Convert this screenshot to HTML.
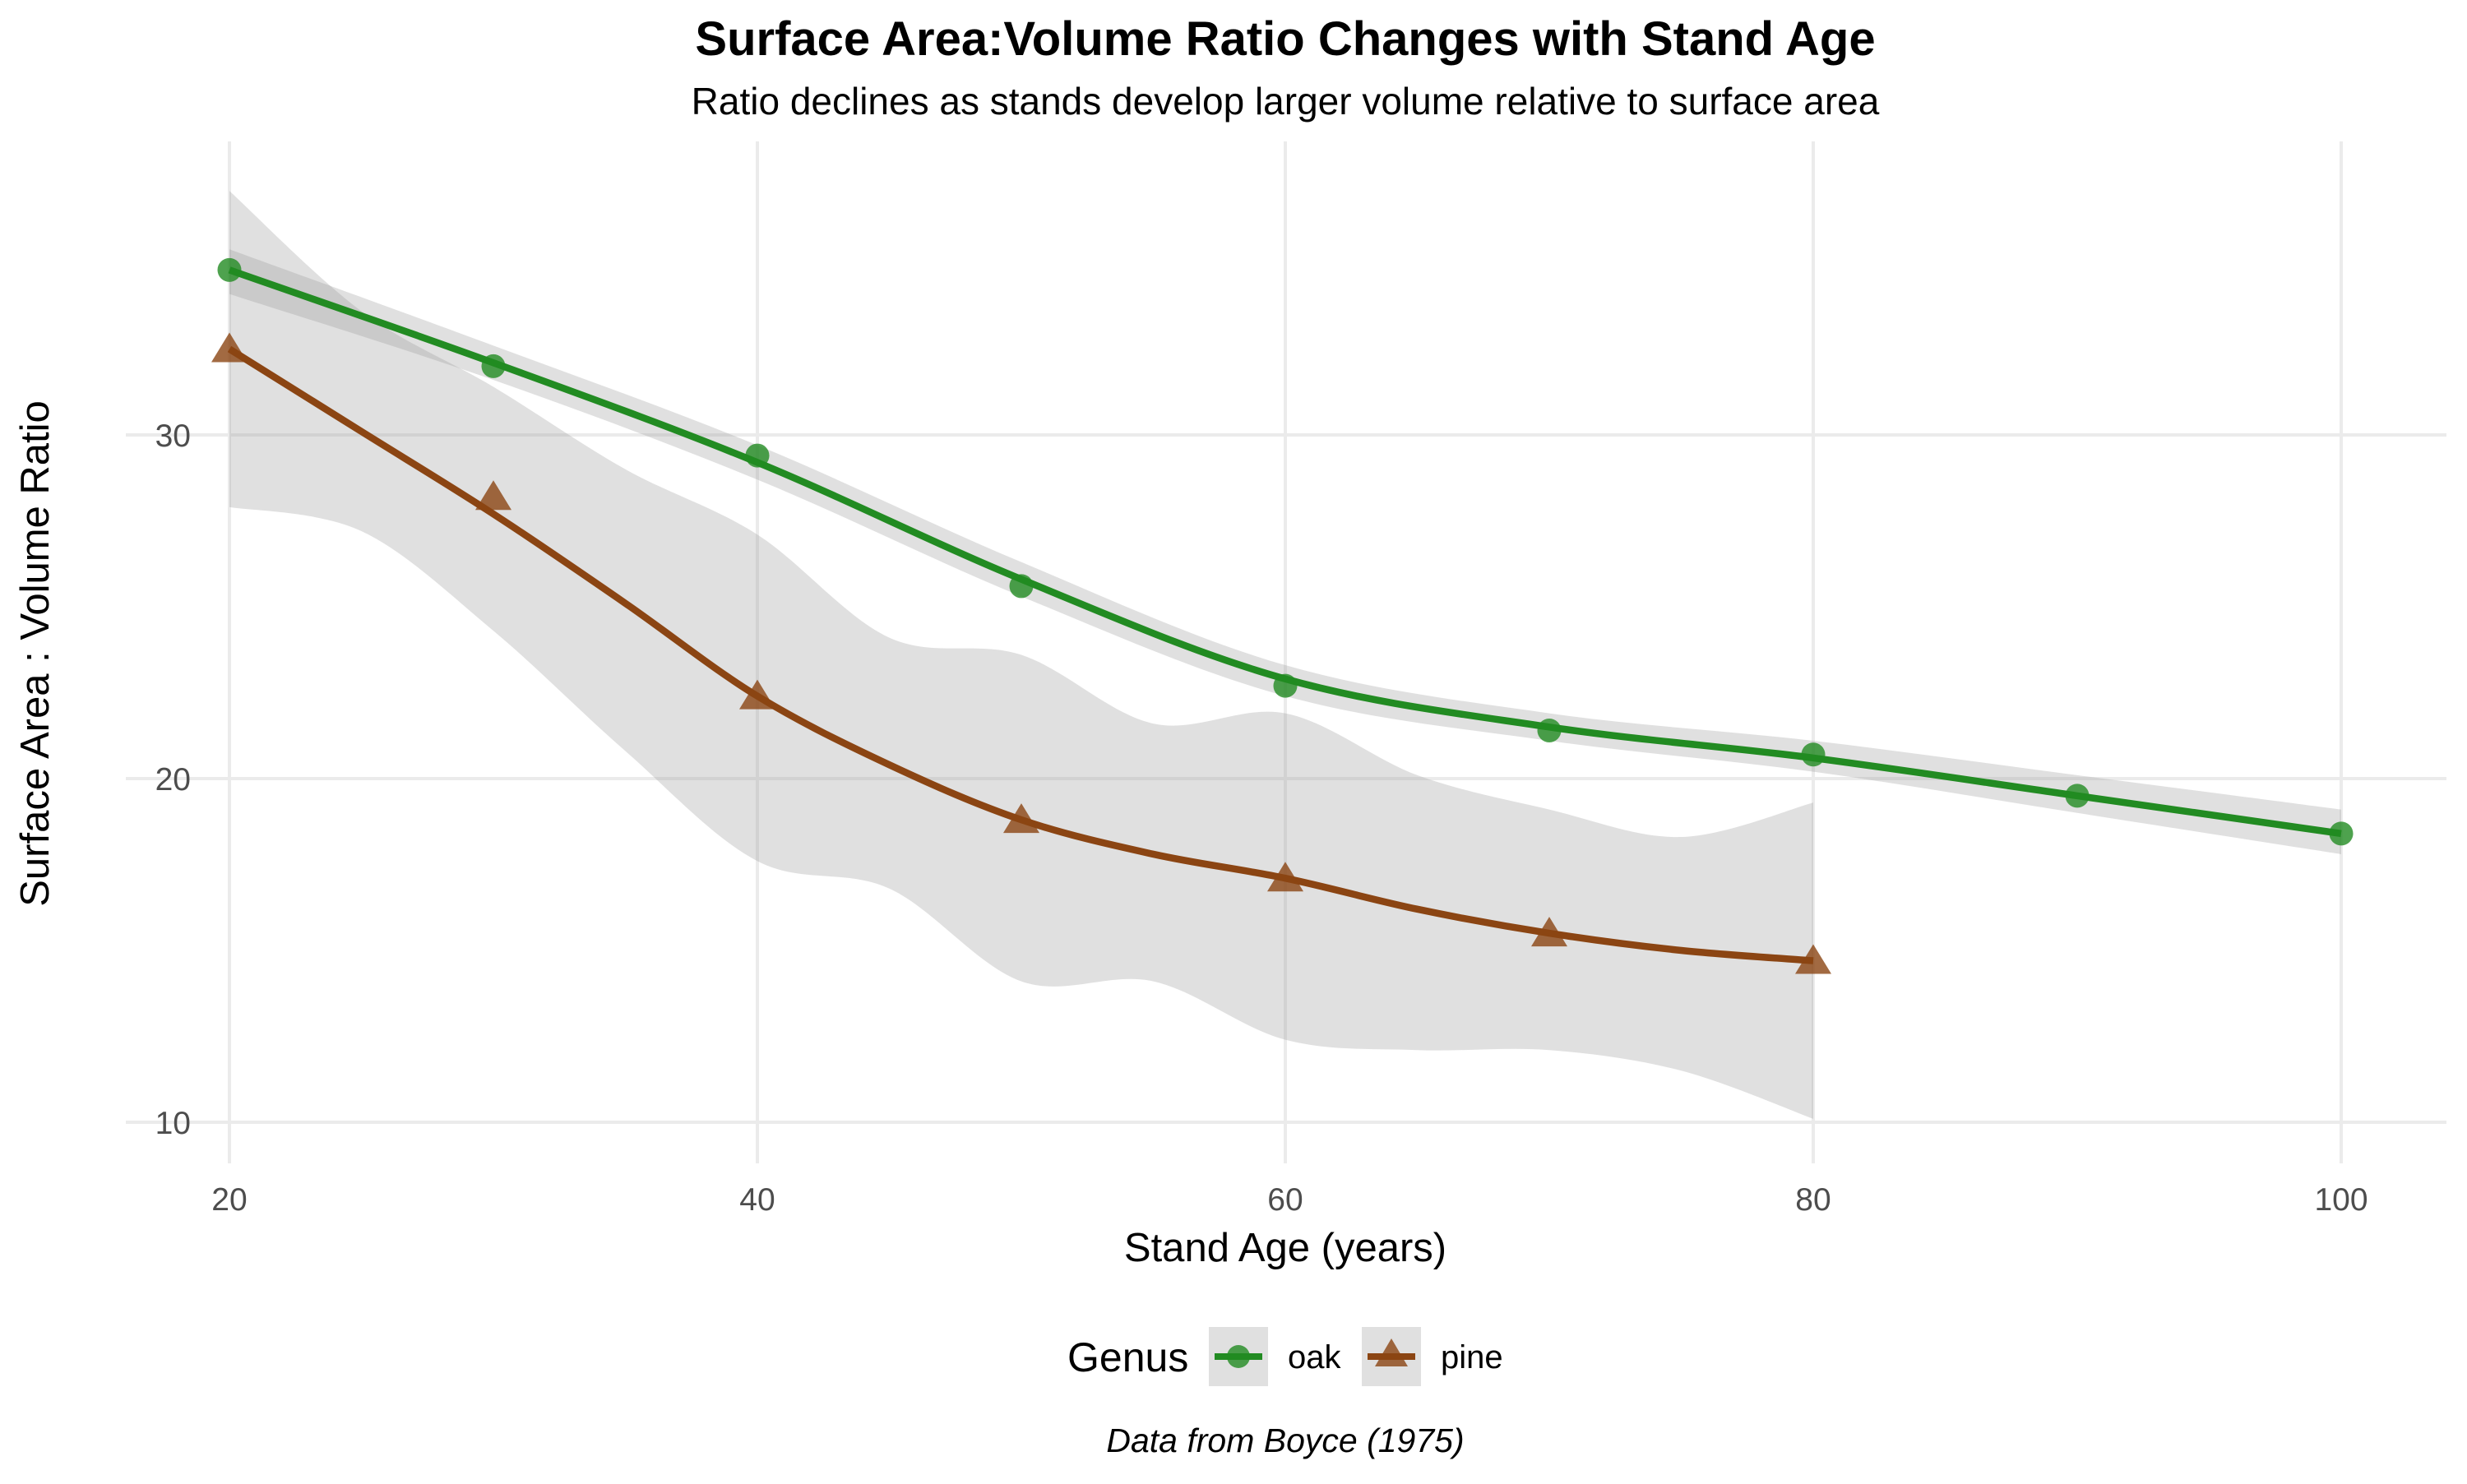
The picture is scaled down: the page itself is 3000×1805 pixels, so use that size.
<!DOCTYPE html>
<html><head><meta charset="utf-8">
<style>
html,body{margin:0;padding:0;background:#fff;}
body{width:3000px;height:1800px;overflow:hidden;font-family:"Liberation Sans",Arial,sans-serif;}
</style></head>
<body>
<svg id="chart" width="3000" height="1800" xmlns="http://www.w3.org/2000/svg" font-family="Liberation Sans, Arial, sans-serif">
<text x="1563" y="67" text-anchor="middle" font-size="58" font-weight="bold" fill="#000">Surface Area:Volume Ratio Changes with Stand Age</text>
<text x="1563" y="139" text-anchor="middle" font-size="46" fill="#000">Ratio declines as stands develop larger volume relative to surface area</text>
<g id="grid"></g>
<g id="bands"></g>
<g id="lines"></g>
<g id="points"></g>
<g id="ticks"></g>
<text x="1563" y="1534" text-anchor="middle" font-size="49" fill="#000">Stand Age (years)</text>
<text transform="translate(59,795) rotate(-90)" text-anchor="middle" font-size="49" fill="#000">Surface Area : Volume Ratio</text>
<g>
 <text x="1298" y="1668" font-size="50" fill="#000">Genus</text>
 <g>
  <rect x="1470" y="1614" width="72" height="72" fill="#e0e0e0"/>
  <line x1="1477" y1="1650" x2="1535" y2="1650" stroke="#228B22" stroke-width="8"/>
  <circle cx="1506" cy="1650" r="14" fill="#228B22" fill-opacity="0.8"/>
  <text x="1566" y="1664" font-size="40" fill="#000">oak</text>
 </g>
 <g>
  <rect x="1656" y="1614" width="72" height="72" fill="#e0e0e0"/>
  <line x1="1663" y1="1650" x2="1721" y2="1650" stroke="#8B4513" stroke-width="8"/>
  <polygon points="1692,1628 1712,1662 1672,1662" fill="#8B4513" fill-opacity="0.8"/>
  <text x="1752" y="1664" font-size="40" fill="#000">pine</text>
 </g>
</g>
<text x="1563" y="1766" text-anchor="middle" font-size="41" font-style="italic" fill="#000">Data from Boyce (1975)</text>
</svg>
<script>
const xTicks=[20,40,60,80,100];
const yTicks=[10,20,30];
const oakAge=[20,30,40,50,60,70,80,90,100];
const oakRatio=[34.8,32.0,29.4,25.6,22.7,21.4,20.7,19.5,18.4];
const oakFit=[34.8,32.1,29.2,25.8,22.9,21.5,20.6,19.5,18.4];
const oakUpper=[35.4,32.6,29.7,26.3,23.3,21.9,21.1,20.1,19.1];
const oakLower=[34.1,31.6,28.7,25.3,22.4,21.1,20.2,19.0,17.8];
const pineAge=[20,30,40,50,60,70,80];
const pineRatio=[32.5,28.2,22.4,18.8,17.1,15.5,14.7];
const fitAge=[20,25,30,35,40,45,50,55,60,65,70,75,80];
const pineFit=[32.5,30.1,27.7,25.1,22.4,20.4,18.8,17.8,17.1,16.2,15.5,15.0,14.7];
const pineUpper=[37.1,33.6,31.4,29.0,27.1,24.1,23.6,21.6,21.9,20.1,19.1,18.3,19.3];
const pineLower=[27.9,27.2,24.3,20.8,17.6,16.8,14.1,14.1,12.4,12.1,12.1,11.5,10.1];

const NS='http://www.w3.org/2000/svg';
const X0=153,X1=2975,Y0=172,Y1=1415;
function sx(v){return 279+(v-20)*(2847-279)/80;}
function sy(v){return 947-(v-20)*(1366-530)/20;}
function mk(tag,attrs,parent){const e=document.createElementNS(NS,tag);for(const k in attrs)e.setAttribute(k,attrs[k]);parent.appendChild(e);return e;}
function smooth(pts){
 let d='M'+pts[0][0]+','+pts[0][1];
 for(let i=0;i<pts.length-1;i++){
  const p0=pts[Math.max(0,i-1)],p1=pts[i],p2=pts[i+1],p3=pts[Math.min(pts.length-1,i+2)];
  const c1=[p1[0]+(p2[0]-p0[0])/6,p1[1]+(p2[1]-p0[1])/6];
  const c2=[p2[0]-(p3[0]-p1[0])/6,p2[1]-(p3[1]-p1[1])/6];
  d+=' C'+c1[0]+','+c1[1]+' '+c2[0]+','+c2[1]+' '+p2[0]+','+p2[1];
 }
 return d;
}
const grid=document.getElementById('grid'),ticks=document.getElementById('ticks');
xTicks.forEach(t=>{
 const l=mk('line',{x1:sx(t),x2:sx(t),y1:Y0,y2:Y1,stroke:'#ebebeb','stroke-width':4},grid);
 
 
 const tx=mk('text',{x:sx(t),y:1472,'text-anchor':'middle','font-size':39,fill:'#4d4d4d'},ticks);
 tx.textContent=t;
 
 
});
yTicks.forEach(t=>{
 const l=mk('line',{x1:X0,x2:X1,y1:sy(t),y2:sy(t),stroke:'#ebebeb','stroke-width':4},grid);
 
 
 const tx=mk('text',{x:232,y:sy(t)+14,'text-anchor':'end','font-size':39,fill:'#4d4d4d'},ticks);
 tx.textContent=t;
 
 
});
function band(ages,up,lo,name){
 const u=ages.map((a,i)=>[sx(a),sy(up[i])]);
 const l=ages.map((a,i)=>[sx(a),sy(lo[i])]).reverse();
 let d=smooth(u)+' L'+l[0][0]+','+l[0][1]+smooth(l).replace(/^M[^C]*/,' ')+' Z';
 const p=mk('path',{d:d,fill:'#999','fill-opacity':0.3},document.getElementById('bands'));
 
 
}
band(oakAge,oakUpper,oakLower,'oak-confidence-band');
band(fitAge,pineUpper,pineLower,'pine-confidence-band');
function line(ages,vals,col,name){
 const p=mk('path',{d:smooth(ages.map((a,i)=>[sx(a),sy(vals[i])])),fill:'none',stroke:col,'stroke-width':8.5},document.getElementById('lines'));
 
 
}
line(oakAge,oakFit,'#228B22','oak-fit-line');
line(fitAge,pineFit,'#8B4513','pine-fit-line');
const pts=document.getElementById('points');
oakAge.forEach((a,i)=>{
 const c=mk('circle',{cx:sx(a),cy:sy(oakRatio[i]),r:14.5,fill:'#228B22','fill-opacity':0.8},pts);
 
 
});
pineAge.forEach((a,i)=>{
 const x=sx(a),y=sy(pineRatio[i]);
 const t=mk('polygon',{points:(x)+','+(y-20)+' '+(x+22)+','+(y+16)+' '+(x-22)+','+(y+16),fill:'#8B4513','fill-opacity':0.8},pts);
 
 
});
</script>
</body></html>
